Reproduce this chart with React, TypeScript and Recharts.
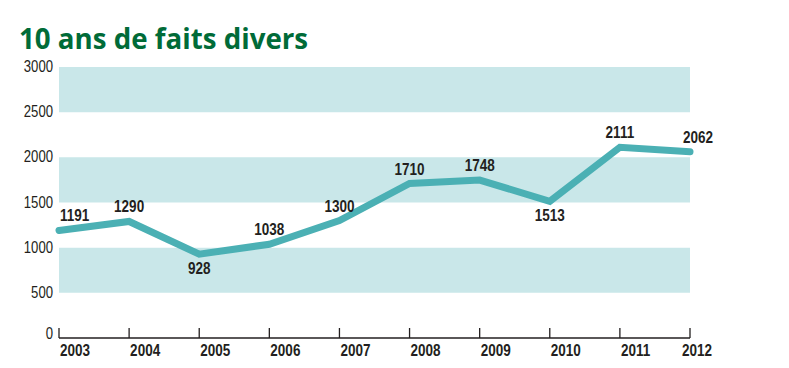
import React from 'react';
import { LineChart, Line, XAxis, YAxis, ReferenceArea, LabelList } from 'recharts';

const years = ['2003', '2004', '2005', '2006', '2007', '2008', '2009', '2010', '2011', '2012'];
const counts = [1191, 1290, 928, 1038, 1300, 1710, 1748, 1513, 2111, 2062];
const yTicks = [0, 500, 1000, 1500, 2000, 2500, 3000];
const bands = [
  [500, 1000],
  [1500, 2000],
  [2500, 3000],
];
const title = '10 ans de faits divers';

const data = years.map((y, i) => ({ year: y, value: counts[i] }));

const SANS = '"Liberation Sans", Arial, sans-serif';
const TEXT = '#231F20';
const SQUEEZE = 0.82;

const Narrow = ({ x, y, anchor, bold, size, children }: any) => (
  <text
    transform={`translate(${x},${y}) scale(${SQUEEZE},1)`}
    x={0}
    y={0}
    textAnchor={anchor}
    fontFamily={SANS}
    fontWeight={bold ? 'bold' : 'normal'}
    fontSize={size}
    fill={TEXT}
  >
    {children}
  </text>
);

const XTick = (props: any) => {
  const { x, y, payload, index } = props;
  const last = index === years.length - 1;
  return (
    <g>
      <line x1={x} x2={x} y1={y - 10} y2={y} stroke={TEXT} strokeWidth={1.3} />
      <Narrow x={last ? x - 8 : x + 1} y={y + 18} anchor="start" bold size={16.5}>
        {payload.value}
      </Narrow>
    </g>
  );
};

const YTick = (props: any) => {
  const { x, y, payload } = props;
  return (
    <Narrow x={x} y={y + (payload.value === 0 ? -4 : 0) + 5} anchor="end" size={16}>
      {payload.value}
    </Narrow>
  );
};

const ValueLabel = (props: any) => {
  const { x, y, value, index } = props;
  const prev = index > 0 ? counts[index - 1] : undefined;
  const next = index < counts.length - 1 ? counts[index + 1] : undefined;
  const below = prev !== undefined && next !== undefined && value < prev && value < next;
  const first = index === 0;
  const last = index === counts.length - 1;
  return (
    <Narrow
      x={first ? x + 1 : last ? x + 8 : x}
      y={below ? y + 20 : y - 9}
      anchor={first ? 'start' : 'middle'}
      bold
      size={16.5}
    >
      {value}
    </Narrow>
  );
};

export default function App() {
  return (
    <div style={{ position: 'absolute', left: 0, top: 0, width: 789, height: 368, background: '#fff' }}>
      <div
        style={{
          position: 'absolute',
          left: 19,
          top: 20,
          fontFamily: '"Open Sans", Lato, sans-serif',
          fontWeight: 700,
          fontSize: 27.7,
          lineHeight: '36px',
          color: '#006B38',
          whiteSpace: 'nowrap',
        }}
      >
        {title}
      </div>
      <div style={{ position: 'absolute', left: 0, top: 0 }}>
        <LineChart width={789} height={368} data={data} margin={{ top: 67, right: 99, bottom: 0, left: 0 }}>
          {bands.map(([a, b]) => (
            <ReferenceArea key={a} y1={a} y2={b} fill="#C9E7E9" fillOpacity={1} stroke="none" />
          ))}
          <XAxis
            dataKey="year"
            height={30}
            axisLine={{ stroke: TEXT, strokeWidth: 1.5 }}
            tickLine={false}
            tickSize={0}
            tickMargin={0}
            tick={<XTick />}
            interval={0}
          />
          <YAxis
            width={59}
            domain={[0, 3000]}
            ticks={yTicks}
            axisLine={false}
            tickLine={false}
            tickSize={0}
            tickMargin={6}
            tick={<YTick />}
            interval={0}
          />
          <Line
            type="linear"
            dataKey="value"
            stroke="#4BB0B4"
            strokeWidth={7}
            strokeLinecap="round"
            strokeLinejoin="miter"
            dot={false}
            activeDot={false}
            isAnimationActive={false}
          >
            <LabelList dataKey="value" content={<ValueLabel />} />
          </Line>
        </LineChart>
      </div>
    </div>
  );
}
